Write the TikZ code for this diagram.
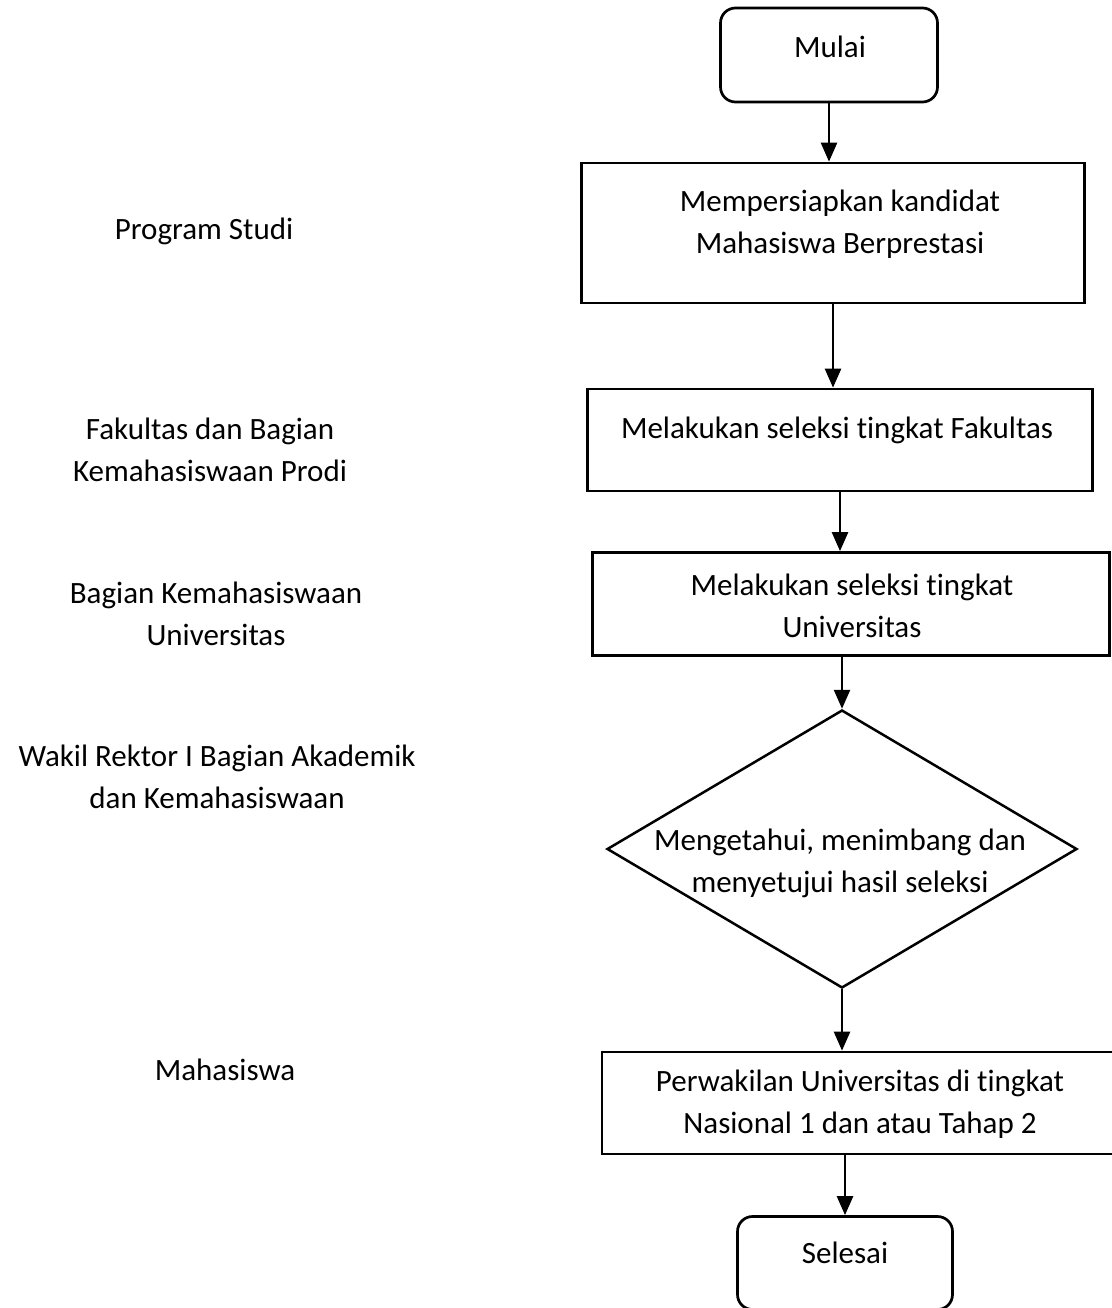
\documentclass[tikz,border=0pt]{standalone}
\usepackage{fontspec}
\setmainfont{Carlito}[RawFeature={-liga;-clig;-calt;-dlig}]
\usetikzlibrary{arrows.meta,shapes.geometric}
\begin{document}
\begin{tikzpicture}[x=1pt,y=-1pt,
  every node/.style={font=\fontsize{31}{42}\selectfont, inner sep=0pt},
  terminal/.style={draw, line width=2.7pt, rounded corners=15pt, rectangle},
  process/.style={draw, line width=2.7pt, rectangle},
  decision/.style={draw, line width=2.5pt, diamond},
  txt/.style={align=center},
  flow/.style={line width=2.5pt, -{Triangle[width=16pt,length=19pt]}}
]
% page area
\fill[white] (0,0) rectangle (1111,1308);
\useasboundingbox (0,0) rectangle (1111,1308);

% flow shapes
\node[terminal, minimum width=217pt, minimum height=94pt] (mulai) at (829,55) {};
\node[process, minimum width=503pt, minimum height=140pt] (siap) at (833,233) {};
\node[process, minimum width=505pt, minimum height=102pt] (fak) at (840,440) {};
\node[process, minimum width=517pt, minimum height=103pt] (univ) at (851,604) {};
\node[decision, minimum width=470pt, minimum height=278pt] (dia) at (842,849) {};
\node[process, minimum width=522pt, minimum height=102pt] (per) at (863,1103) {};
\node[terminal, minimum width=215pt, minimum height=93pt] (sel) at (845,1263) {};

% texts inside shapes
\node[txt] (tmulai) at (830,47) {Mulai};
\node[txt] (tsiap) at (840,224) {Mempersiapkan kandidat\\Mahasiswa Berprestasi};
\node[txt] (tfak) at (837,430) {Melakukan seleksi tingkat Fakultas};
\node[txt] (tuniv) at (852,606) {Melakukan seleksi tingkat\\Universitas};
\node[txt] (tdia) at (840,863) {Mengetahui, menimbang dan\\menyetujui hasil seleksi};
\node[txt] (tper) at (860,1104) {Perwakilan Universitas di tingkat\\Nasional 1 dan atau Tahap 2};
\node[txt] (tsel) at (845,1253) {Selesai};

% responsible units
\node[txt] (l1) at (204,231) {Program Studi};
\node[txt] (l2) at (210,450) {Fakultas dan Bagian\\Kemahasiswaan Prodi};
\node[txt] (l3) at (216,614) {Bagian Kemahasiswaan\\Universitas};
\node[txt] (l4) at (217,777) {Wakil Rektor I Bagian Akademik\\dan Kemahasiswaan};
\node[txt] (l5) at (225,1070) {Mahasiswa};

% connectors
\draw[flow] (mulai.south) -- (mulai.south |- siap.north);
\draw[flow] (siap.south) -- (siap.south |- fak.north);
\draw[flow] (fak.south) -- (fak.south |- univ.north);
\draw[flow] (univ.south -| dia.north) -- (dia.north);
\draw[flow] (dia.south) -- (dia.south |- per.north);
\draw[flow] (per.south -| sel.north) -- (sel.north);
\end{tikzpicture}
\end{document}
